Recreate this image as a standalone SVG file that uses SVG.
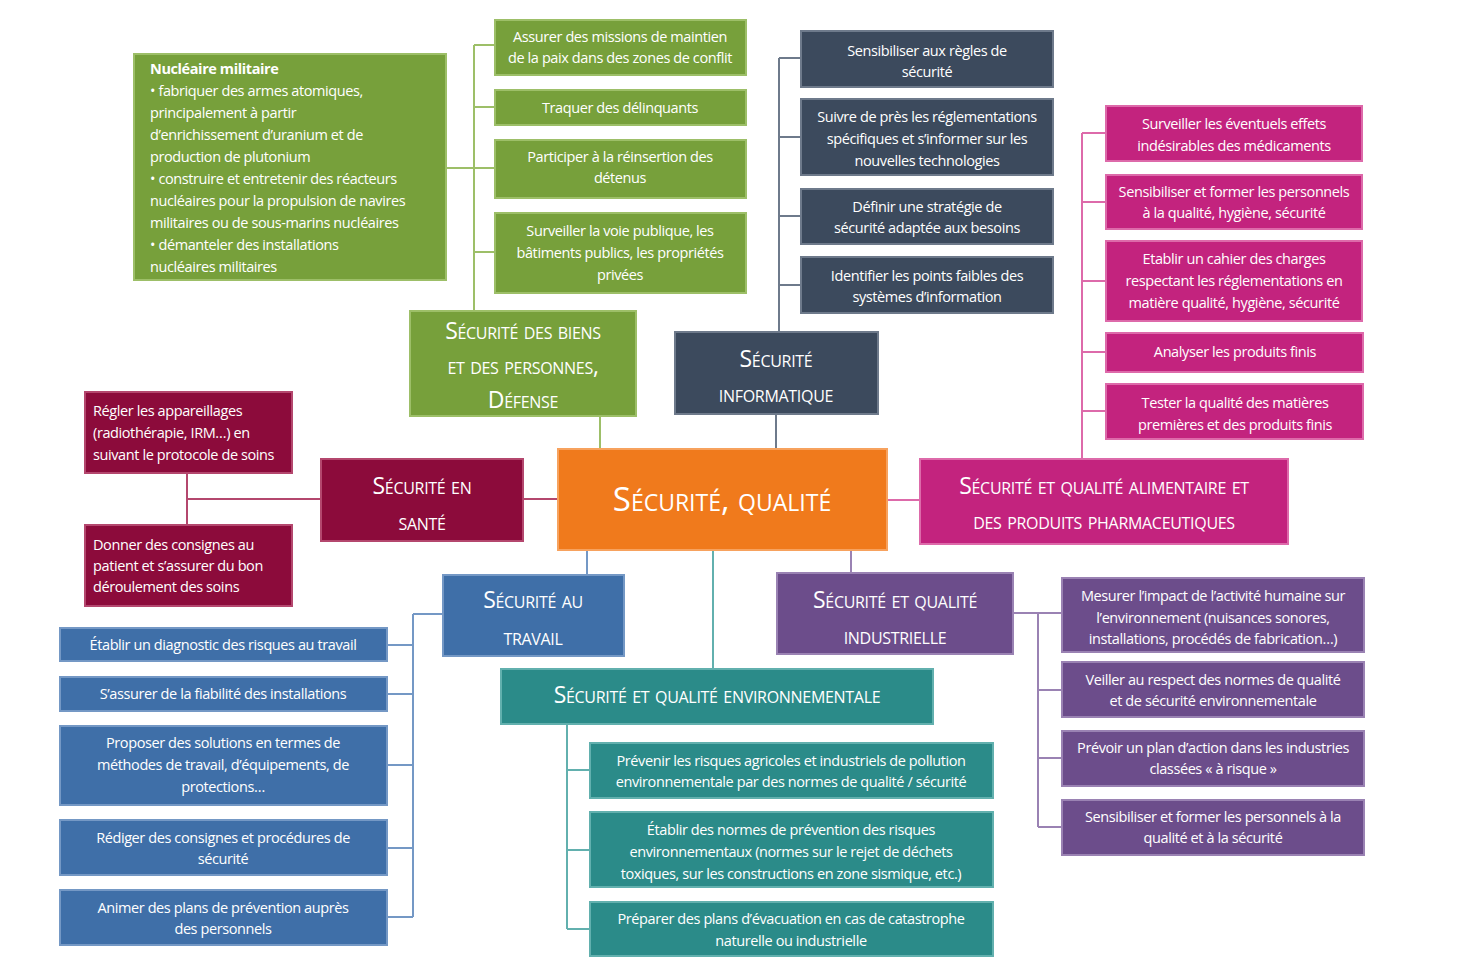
<svg xmlns="http://www.w3.org/2000/svg" width="1460" height="977" viewBox="0 0 1460 977">
<style>
text{font-family:"Open Sans","Liberation Sans",sans-serif;fill:#fff;text-anchor:middle}
.b{font-size:14.5px;letter-spacing:-0.4px}
.c{font-size:23px;font-variant:small-caps;letter-spacing:-0.3px}
rect{stroke-width:2}
.g{fill:#77A03B;stroke:#9DBF68}
.n{fill:#3C4A5D;stroke:#6E7A8B}
.m{fill:#C3237E;stroke:#DD6AAA}
.r{fill:#8C0B3B;stroke:#B4476E}
.u{fill:#3F6FA8;stroke:#7498C5}
.p{fill:#6C4D8B;stroke:#9A82B3}
.t{fill:#2B8B89;stroke:#62B0AE}
.o{fill:#F07A1C;stroke:#F7A25E}
#conn line{stroke-width:2}
</style>
<rect width="1460" height="977" fill="#fff"/>
<g id="conn">
<line x1="474" y1="45" x2="474" y2="311" stroke="#9DBF68"/>
<line x1="446" y1="168" x2="474" y2="168" stroke="#9DBF68"/>
<line x1="474" y1="45" x2="495" y2="45" stroke="#9DBF68"/>
<line x1="474" y1="107" x2="495" y2="107" stroke="#9DBF68"/>
<line x1="474" y1="168" x2="495" y2="168" stroke="#9DBF68"/>
<line x1="474" y1="252" x2="495" y2="252" stroke="#9DBF68"/>
<line x1="600" y1="416" x2="600" y2="449" stroke="#9DBF68"/>
<line x1="779" y1="58" x2="779" y2="332" stroke="#6E7A8B"/>
<line x1="779" y1="58" x2="801" y2="58" stroke="#6E7A8B"/>
<line x1="779" y1="137" x2="801" y2="137" stroke="#6E7A8B"/>
<line x1="779" y1="216" x2="801" y2="216" stroke="#6E7A8B"/>
<line x1="779" y1="285" x2="801" y2="285" stroke="#6E7A8B"/>
<line x1="776" y1="414" x2="776" y2="449" stroke="#6E7A8B"/>
<line x1="1082" y1="133" x2="1082" y2="459" stroke="#DD6AAA"/>
<line x1="1082" y1="133" x2="1106" y2="133" stroke="#DD6AAA"/>
<line x1="1082" y1="202" x2="1106" y2="202" stroke="#DD6AAA"/>
<line x1="1082" y1="281" x2="1106" y2="281" stroke="#DD6AAA"/>
<line x1="1082" y1="352" x2="1106" y2="352" stroke="#DD6AAA"/>
<line x1="1082" y1="411" x2="1106" y2="411" stroke="#DD6AAA"/>
<line x1="887" y1="500" x2="920" y2="500" stroke="#DD6AAA"/>
<line x1="187" y1="473" x2="187" y2="525" stroke="#B4476E"/>
<line x1="187" y1="499" x2="321" y2="499" stroke="#B4476E"/>
<line x1="523" y1="499" x2="558" y2="499" stroke="#B4476E"/>
<line x1="413" y1="614" x2="413" y2="917" stroke="#7498C5"/>
<line x1="413" y1="614" x2="443" y2="614" stroke="#7498C5"/>
<line x1="387" y1="645" x2="413" y2="645" stroke="#7498C5"/>
<line x1="387" y1="694" x2="413" y2="694" stroke="#7498C5"/>
<line x1="387" y1="765" x2="413" y2="765" stroke="#7498C5"/>
<line x1="387" y1="848" x2="413" y2="848" stroke="#7498C5"/>
<line x1="387" y1="917" x2="413" y2="917" stroke="#7498C5"/>
<line x1="587" y1="550" x2="587" y2="575" stroke="#7498C5"/>
<line x1="1038" y1="613" x2="1038" y2="827" stroke="#9A82B3"/>
<line x1="1013" y1="613" x2="1062" y2="613" stroke="#9A82B3"/>
<line x1="1038" y1="690" x2="1062" y2="690" stroke="#9A82B3"/>
<line x1="1038" y1="758" x2="1062" y2="758" stroke="#9A82B3"/>
<line x1="1038" y1="827" x2="1062" y2="827" stroke="#9A82B3"/>
<line x1="851" y1="550" x2="851" y2="573" stroke="#9A82B3"/>
<line x1="567" y1="724" x2="567" y2="929" stroke="#62B0AE"/>
<line x1="567" y1="770" x2="590" y2="770" stroke="#62B0AE"/>
<line x1="567" y1="850" x2="590" y2="850" stroke="#62B0AE"/>
<line x1="567" y1="929" x2="590" y2="929" stroke="#62B0AE"/>
<line x1="713" y1="550" x2="713" y2="669" stroke="#62B0AE"/>
</g>
<g id="center"><rect class="o" x="558" y="449" width="329" height="101"/><text x="722" y="511" style="font-size:33px;font-variant:small-caps">Sécurité, qualité</text></g>

<g id="defense"><rect class="c g" x="410" y="311" width="226" height="105"/><text class="c" x="523" y="339">Sécurité des biens</text><text class="c" x="523" y="374">et des personnes,</text><text class="c" x="523" y="408">Défense</text></g>
<g id="g1"><rect class="g" x="134" y="54" width="312" height="226"/>
<text class="b" style="text-anchor:start" x="150" y="74"><tspan font-weight="bold">Nucléaire militaire</tspan><tspan x="150" dy="22">• fabriquer des armes atomiques,</tspan><tspan x="150" dy="22">principalement à partir</tspan><tspan x="150" dy="22">d’enrichissement d’uranium et de</tspan><tspan x="150" dy="22">production de plutonium</tspan><tspan x="150" dy="22">• construire et entretenir des réacteurs</tspan><tspan x="150" dy="22">nucléaires pour la propulsion de navires</tspan><tspan x="150" dy="22">militaires ou de sous-marins nucléaires</tspan><tspan x="150" dy="22">• démanteler des installations</tspan><tspan x="150" dy="22">nucléaires militaires</tspan></text></g>
<g id="g2"><rect class="g" x="495" y="20" width="251" height="55"/><text class="b" x="620" y="42">Assurer des missions de maintien<tspan x="620" dy="21">de la paix dans des zones de conflit</tspan></text></g>
<g id="g3"><rect class="g" x="495" y="90" width="251" height="35"/><text class="b" x="620" y="113">Traquer des délinquants</text></g>
<g id="g4"><rect class="g" x="495" y="140" width="251" height="58"/><text class="b" x="620" y="162">Participer à la réinsertion des<tspan x="620" dy="21">détenus</tspan></text></g>
<g id="g5"><rect class="g" x="495" y="213" width="251" height="80"/><text class="b" x="620" y="236">Surveiller la voie publique, les<tspan x="620" dy="22">bâtiments publics, les propriétés</tspan><tspan x="620" dy="22">privées</tspan></text></g>

<g id="info"><rect class="n" x="675" y="332" width="203" height="82"/><text class="c" x="776" y="367">Sécurité</text><text class="c" x="776" y="402">informatique</text></g>
<g id="n1"><rect class="n" x="801" y="31" width="252" height="56"/><text class="b" x="927" y="56">Sensibiliser aux règles de<tspan x="927" dy="21">sécurité</tspan></text></g>
<g id="n2"><rect class="n" x="801" y="99" width="252" height="76"/><text class="b" x="927" y="122">Suivre de près les réglementations<tspan x="927" dy="22">spécifiques et s’informer sur les</tspan><tspan x="927" dy="22">nouvelles technologies</tspan></text></g>
<g id="n3"><rect class="n" x="801" y="189" width="252" height="55"/><text class="b" x="927" y="212">Définir une stratégie de<tspan x="927" dy="21">sécurité adaptée aux besoins</tspan></text></g>
<g id="n4"><rect class="n" x="801" y="257" width="252" height="56"/><text class="b" x="927" y="281">Identifier les points faibles des<tspan x="927" dy="21">systèmes d’information</tspan></text></g>

<g id="alim"><rect class="m" x="920" y="459" width="368" height="85"/><text class="c" x="1104" y="494">Sécurité et qualité alimentaire et</text><text class="c" x="1104" y="529">des produits pharmaceutiques</text></g>
<g id="m1"><rect class="m" x="1106" y="106" width="256" height="55"/><text class="b" x="1234" y="129">Surveiller les éventuels effets<tspan x="1234" dy="22">indésirables des médicaments</tspan></text></g>
<g id="m2"><rect class="m" x="1106" y="175" width="256" height="54"/><text class="b" x="1234" y="197">Sensibiliser et former les personnels<tspan x="1234" dy="21">à la qualité, hygiène, sécurité</tspan></text></g>
<g id="m3"><rect class="m" x="1106" y="241" width="256" height="80"/><text class="b" x="1234" y="264">Etablir un cahier des charges<tspan x="1234" dy="22">respectant les réglementations en</tspan><tspan x="1234" dy="22">matière qualité, hygiène, sécurité</tspan></text></g>
<g id="m4"><rect class="m" x="1106" y="333" width="257" height="39"/><text class="b" x="1235" y="357">Analyser les produits finis</text></g>
<g id="m5"><rect class="m" x="1106" y="384" width="257" height="55"/><text class="b" x="1235" y="408">Tester la qualité des matières<tspan x="1235" dy="22">premières et des produits finis</tspan></text></g>

<g id="sante"><rect class="r" x="321" y="459" width="202" height="82"/><text class="c" x="422" y="494">Sécurité en</text><text class="c" x="422" y="530">santé</text></g>
<g id="r1"><rect class="r" x="85" y="392" width="207" height="81"/><text class="b" style="text-anchor:start" x="93" y="416">Régler les appareillages<tspan x="93" dy="22">(radiothérapie, IRM…) en</tspan><tspan x="93" dy="22">suivant le protocole de soins</tspan></text></g>
<g id="r2"><rect class="r" x="85" y="525" width="207" height="81"/><text class="b" style="text-anchor:start" x="93" y="550">Donner des consignes au<tspan x="93" dy="21">patient et s’assurer du bon</tspan><tspan x="93" dy="21">déroulement des soins</tspan></text></g>

<g id="travail"><rect class="u" x="443" y="575" width="181" height="81"/><text class="c" x="533" y="608">Sécurité au</text><text class="c" x="533" y="645">travail</text></g>
<g id="u1"><rect class="u" x="60" y="628" width="327" height="33"/><text class="b" x="223" y="650">Établir un diagnostic des risques au travail</text></g>
<g id="u2"><rect class="u" x="60" y="677" width="327" height="34"/><text class="b" x="223" y="699">S’assurer de la fiabilité des installations</text></g>
<g id="u3"><rect class="u" x="60" y="726" width="327" height="79"/><text class="b" x="223" y="748">Proposer des solutions en termes de<tspan x="223" dy="22">méthodes de travail, d’équipements, de</tspan><tspan x="223" dy="22">protections…</tspan></text></g>
<g id="u4"><rect class="u" x="60" y="820" width="327" height="55"/><text class="b" x="223" y="843">Rédiger des consignes et procédures de<tspan x="223" dy="21">sécurité</tspan></text></g>
<g id="u5"><rect class="u" x="60" y="890" width="327" height="55"/><text class="b" x="223" y="913">Animer des plans de prévention auprès<tspan x="223" dy="21">des personnels</tspan></text></g>

<g id="indus"><rect class="p" x="777" y="573" width="236" height="81"/><text class="c" x="895" y="608">Sécurité et qualité</text><text class="c" x="895" y="644">industrielle</text></g>
<g id="p1"><rect class="p" x="1062" y="578" width="302" height="74"/><text class="b" x="1213" y="601">Mesurer l’impact de l’activité humaine sur<tspan x="1213" dy="22">l’environnement (nuisances sonores,</tspan><tspan x="1213" dy="21">installations, procédés de fabrication…)</tspan></text></g>
<g id="p2"><rect class="p" x="1062" y="662" width="302" height="55"/><text class="b" x="1213" y="685">Veiller au respect des normes de qualité<tspan x="1213" dy="21">et de sécurité environnementale</tspan></text></g>
<g id="p3"><rect class="p" x="1062" y="731" width="302" height="55"/><text class="b" x="1213" y="753">Prévoir un plan d’action dans les industries<tspan x="1213" dy="21">classées « à risque »</tspan></text></g>
<g id="p4"><rect class="p" x="1062" y="800" width="302" height="55"/><text class="b" x="1213" y="822">Sensibiliser et former les personnels à la<tspan x="1213" dy="21">qualité et à la sécurité</tspan></text></g>

<g id="env"><rect class="t" x="501" y="669" width="432" height="55"/><text class="c" x="717" y="703">Sécurité et qualité environnementale</text></g>
<g id="t1"><rect class="t" x="590" y="743" width="403" height="55"/><text class="b" x="791" y="766">Prévenir les risques agricoles et industriels de pollution<tspan x="791" dy="21">environnementale par des normes de qualité / sécurité</tspan></text></g>
<g id="t2"><rect class="t" x="590" y="812" width="403" height="75"/><text class="b" x="791" y="835">Établir des normes de prévention des risques<tspan x="791" dy="22">environnementaux (normes sur le rejet de déchets</tspan><tspan x="791" dy="22">toxiques, sur les constructions en zone sismique, etc.)</tspan></text></g>
<g id="t3"><rect class="t" x="590" y="902" width="403" height="54"/><text class="b" x="791" y="924">Préparer des plans d’évacuation en cas de catastrophe<tspan x="791" dy="22">naturelle ou industrielle</tspan></text></g>
</svg>
